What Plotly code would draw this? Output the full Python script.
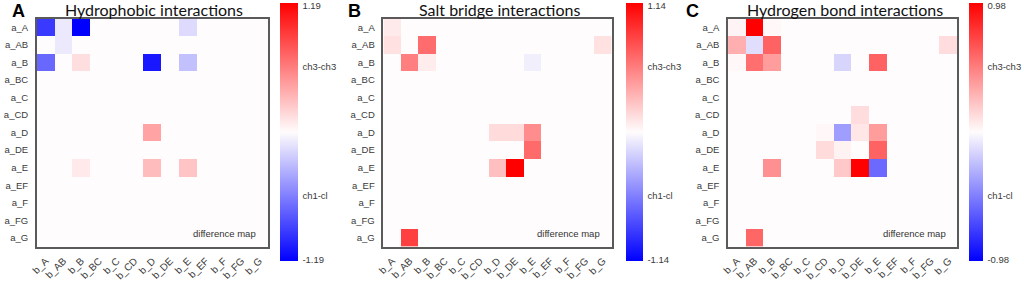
import plotly.graph_objects as go

rows = ["a_A", "a_AB", "a_B", "a_BC", "a_C", "a_CD", "a_D", "a_DE", "a_E", "a_EF", "a_F", "a_FG", "a_G"]
cols = ["b_A", "b_AB", "b_B", "b_BC", "b_C", "b_CD", "b_D", "b_DE", "b_E", "b_EF", "b_F", "b_FG", "b_G"]

titles = ["Hydrophobic interactions", "Salt bridge interactions", "Hydrogen bond interactions"]
letters = ["A", "B", "C"]
limits = [1.19, 1.14, 0.98]

hydrophobic = [
    [-0.92, -0.09, -1.19, 0, 0, 0, 0, 0, -0.16, 0, 0, 0, 0],
    [0, -0.09, 0, 0, 0, 0, 0, 0, 0, 0, 0, 0, 0],
    [-0.70, 0, 0.14, 0, 0, 0, -1.08, 0, -0.28, 0, 0, 0, 0],
    [0, 0, 0, 0, 0, 0, 0, 0, 0, 0, 0, 0, 0],
    [0, 0, 0, 0, 0, 0, 0, 0, 0, 0, 0, 0, 0],
    [0, 0, 0, 0, 0, 0, 0, 0, 0, 0, 0, 0, 0],
    [0, 0, 0, 0, 0, 0, 0.42, 0, 0, 0, 0, 0, 0],
    [0, 0, 0, 0, 0, 0, 0, 0, 0, 0, 0, 0, 0],
    [0, 0, 0.09, 0, 0, 0, 0.30, 0, 0.26, 0, 0, 0, 0],
    [0, 0, 0, 0, 0, 0, 0, 0, 0, 0, 0, 0, 0],
    [0, 0, 0, 0, 0, 0, 0, 0, 0, 0, 0, 0, 0],
    [0, 0, 0, 0, 0, 0, 0, 0, 0, 0, 0, 0, 0],
    [0, 0, 0, 0, 0, 0, 0, 0, 0, 0, 0, 0, 0],
]

salt_bridge = [
    [0.08, 0, 0, 0, 0, 0, 0, 0, 0, 0, 0, 0, 0],
    [0.12, 0, 0.65, 0, 0, 0, 0, 0, 0, 0, 0, 0, 0.12],
    [0, 0.57, 0.07, 0, 0, 0, 0, 0, -0.06, 0, 0, 0, 0],
    [0, 0, 0, 0, 0, 0, 0, 0, 0, 0, 0, 0, 0],
    [0, 0, 0, 0, 0, 0, 0, 0, 0, 0, 0, 0, 0],
    [0, 0, 0, 0, 0, 0, 0, 0, 0, 0, 0, 0, 0],
    [0, 0, 0, 0, 0, 0, 0.15, 0.15, 0.50, 0, 0, 0, 0],
    [0, 0, 0, 0, 0, 0, 0, 0, 0.66, 0, 0, 0, 0],
    [0, 0, 0, 0, 0, 0, 0.28, 1.14, 0, 0, 0, 0, 0],
    [0, 0, 0, 0, 0, 0, 0, 0, 0, 0, 0, 0, 0],
    [0, 0, 0, 0, 0, 0, 0, 0, 0, 0, 0, 0, 0],
    [0, 0, 0, 0, 0, 0, 0, 0, 0, 0, 0, 0, 0],
    [0, 0.85, 0, 0, 0, 0, 0, 0, 0, 0, 0, 0, 0],
]

hydrogen_bond = [
    [0.03, 0.98, 0.02, 0, 0, 0, 0, 0, 0, 0, 0, 0, 0],
    [0.30, -0.12, 0.60, 0, 0, 0, 0, 0, 0, 0, 0, 0, 0.12],
    [0.02, 0.55, 0.37, 0, 0, 0, -0.15, 0, 0.60, 0, 0, 0, 0],
    [0, 0, 0, 0, 0, 0, 0, 0, 0, 0, 0, 0, 0],
    [0, 0, 0, 0, 0, 0, 0, 0, 0, 0, 0, 0, 0],
    [0, 0, 0, 0, 0, 0, 0, 0.12, 0, 0, 0, 0, 0],
    [0, 0, 0, 0, 0, 0.02, -0.37, 0.08, 0.37, 0, 0, 0, 0],
    [0, 0, 0, 0, 0, 0.13, 0.04, 0, 0.60, 0, 0, 0, 0],
    [0, 0, 0.42, 0, 0, 0, 0.20, 0.98, -0.57, 0, 0, 0, 0],
    [0, 0, 0, 0, 0, 0, 0, 0, 0, 0, 0, 0, 0],
    [0, 0, 0, 0, 0, 0, 0, 0, 0, 0, 0, 0, 0],
    [0, 0, 0, 0, 0, 0, 0, 0, 0, 0, 0, 0, 0],
    [0, 0.58, 0, 0, 0, 0, 0, 0, 0, 0, 0, 0, 0],
]

matrices = [hydrophobic, salt_bridge, hydrogen_bond]

W, H = 1024, 281
plot_x = [(30, 263), (379, 609), (726, 957)]
plot_top, plot_bot = 19, 251
cbar_x = [(275, 18), (623, 17), (969, 14)]
cbar_top, cbar_bot = 5, 263
letter_x = [3, 341, 682]

bwr = [[0.0, "rgb(0,0,255)"], [0.5, "rgb(255,252,253)"], [1.0, "rgb(255,0,0)"]]
ytick_font = dict(family="Liberation Sans, Arial, sans-serif", size=9.5, color="#3a3a3a")
xtick_font = dict(family="Liberation Sans, Arial, sans-serif", size=10, color="#3a3a3a")

fig = go.Figure()
for i in range(3):
    lim = limits[i]
    xa = "x" if i == 0 else f"x{i+1}"
    ya = "y" if i == 0 else f"y{i+1}"
    cx, cth = cbar_x[i]
    fig.add_trace(go.Heatmap(
        z=matrices[i], x=cols, y=rows,
        zmin=-lim, zmax=lim, colorscale=bwr,
        xaxis=xa, yaxis=ya, hoverinfo="skip",
        colorbar=dict(
            x=cx / W, xanchor="left", xref="paper", xpad=0, ypad=0,
            y=1 - (cbar_top + cbar_bot) / 2 / H, yanchor="middle",
            lenmode="pixels", len=cbar_bot - cbar_top,
            thickness=cth, thicknessmode="pixels",
            outlinewidth=0, ticklabeloverflow="allow",
            tickvals=[lim * 0.975, lim / 2, -lim / 2, -lim * 0.99],
            ticktext=[f"{lim:.2f}", "ch3-ch3", "ch1-cl", f"{-lim:.2f}"],
            ticks="outside", ticklen=3, tickcolor="rgba(0,0,0,0)",
            tickfont=ytick_font,
        ),
    ))
    x0, x1 = plot_x[i]
    xkey = "xaxis" if i == 0 else f"xaxis{i+1}"
    ykey = "yaxis" if i == 0 else f"yaxis{i+1}"
    fig.update_layout(**{
        xkey: dict(domain=[x0 / W, x1 / W], anchor=ya, tickangle=-45,
                   showline=True, mirror=True, linecolor="#5a5a5a", linewidth=1.5,
                   showgrid=False, zeroline=False, ticks="outside", ticklen=3,
                   tickcolor="rgba(0,0,0,0)", tickfont=xtick_font,
                   categoryorder="array", categoryarray=cols),
        ykey: dict(domain=[1 - plot_bot / H, 1 - plot_top / H], anchor=xa,
                   autorange="reversed",
                   showline=True, mirror=True, linecolor="#5a5a5a", linewidth=1.5,
                   showgrid=False, zeroline=False, ticks="outside", ticklen=5,
                   tickcolor="rgba(0,0,0,0)", tickfont=ytick_font,
                   categoryorder="array", categoryarray=rows),
    })
    fig.add_annotation(text=titles[i], xref="paper", yref="paper",
                       x=(x0 + x1) / 2 / W + 2 / W, y=1 - 10 / H,
                       xanchor="center", yanchor="middle", showarrow=False,
                       font=dict(family="Lato, Open Sans, sans-serif", size=16, color="#111"))
    fig.add_annotation(text=f"<b>{letters[i]}</b>", xref="paper", yref="paper",
                       x=letter_x[i] / W, y=1 - 11 / H, xanchor="left", yanchor="middle",
                       showarrow=False,
                       font=dict(family="Liberation Sans, Arial, sans-serif", size=18, color="#000"))
    fig.add_annotation(text="difference map", xref=f"{xa} domain", yref=f"{ya} domain",
                       x=0.957, y=0.056, xanchor="right", yanchor="middle", showarrow=False,
                       font=dict(family="Liberation Sans, Arial, sans-serif", size=9.5, color="#333"))

fig.update_layout(width=W, height=H, margin=dict(l=0, r=0, t=0, b=0),
                  paper_bgcolor="white", plot_bgcolor="white", showlegend=False)
fig.write_html("out.html", config={"displayModeBar": False},
               post_script="document.body.style.margin='0';document.body.style.overflow='hidden';")
